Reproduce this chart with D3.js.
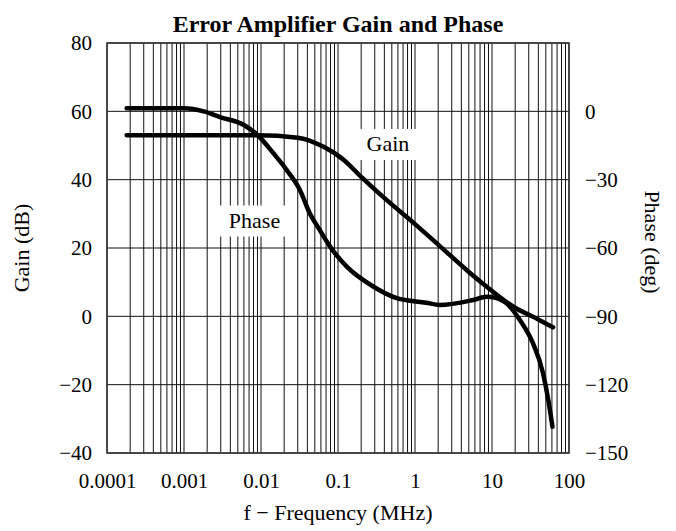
<!DOCTYPE html>
<html><head><meta charset="utf-8">
<script src="https://cdn.jsdelivr.net/npm/d3@7"></script>
<style>
body{margin:0;background:#fff}
svg{display:block}
text{font-family:"Liberation Serif","Times New Roman",serif;fill:#000}
</style>
</head><body><svg id="c" width="676" height="531"></svg>
<script>
// ---- data ----
const chartTitle = "Error Amplifier Gain and Phase";
const xTitle = "f \u2212 Frequency (MHz)";
const yLeftTitle = "Gain (dB)";
const yRightTitle = "Phase (deg)";
const xTicks = [0.0001, 0.001, 0.01, 0.1, 1, 10, 100];
const xTickLabels = ["0.0001", "0.001", "0.01", "0.1", "1", "10", "100"];
const gainTicks = [-40, -20, 0, 20, 40, 60, 80];
const gainTickLabels = ["\u221240", "\u221220", "0", "20", "40", "60", "80"];
const phaseTicks = [0, -30, -60, -90, -120, -150];
const phaseTickLabels = ["0", "\u221230", "\u221260", "\u221290", "\u2212120", "\u2212150"];
const gainFreq = [0.00018, 0.009, 0.03, 0.065, 0.12, 0.2, 0.43, 1, 2, 5, 8.5, 19, 40, 62];
const gainDb   = [53, 53, 52.3, 49.6, 45.7, 40.8, 34, 27, 21, 13, 8.7, 2.8, -0.9, -3.2];
const phaseFreq = [0.00018, 0.001, 0.0018, 0.003, 0.006, 0.009, 0.0145, 0.0216, 0.032, 0.043, 0.056, 0.079, 0.13, 0.29, 0.58, 1.4, 2.1, 5.7, 8.5, 11.5, 15.5, 23, 34, 46, 54, 61];
const phaseDeg  = [1.3, 1.3, 0, -2.6, -6, -10.4, -18.4, -25.8, -34.5, -44.8, -51.3, -59.4, -68.2, -77, -82, -84, -85, -82.8, -81.4, -82, -84.3, -91.6, -101.8, -115, -127, -138.5];
const seriesNames = ["Gain", "Phase"];

// ---- layout ----
const W = 676, H = 531;
const L = 107, R = 569, T = 43, B = 453;
const svg = d3.select("#c");
svg.append("rect").attr("width", W).attr("height", H).attr("fill", "#fff");

const x = d3.scaleLog().domain([1e-4, 1e2]).range([L, R]);
const yG = d3.scaleLinear().domain([-40, 80]).range([B, T]);
const yP = d3.scaleLinear().domain([-150, 30]).range([B, T]);

// grid
const grid = svg.append("g");
grid.selectAll("line.v").data(x.ticks()).join("line")
  .attr("x1", d => x(d)).attr("x2", d => x(d))
  .attr("y1", T).attr("y2", B)
  .attr("stroke", "#111").attr("stroke-width", 1);
grid.selectAll("line.h").data(gainTicks).join("line")
  .attr("x1", L).attr("x2", R)
  .attr("y1", d => yG(d)).attr("y2", d => yG(d))
  .attr("stroke", "#111").attr("stroke-width", 1);

// series labels with white boxes
const labelPos = [{f: 0.446, g: 48.4}, {f: 0.00824, g: 26}];
const lab = svg.append("g");
seriesNames.forEach((name, i) => {
  const cx = x(labelPos[i].f), by = yG(labelPos[i].g);
  const t = lab.append("text").attr("x", cx).attr("y", by)
    .attr("text-anchor", "middle").attr("font-size", 22).text(name);
  const bb = t.node().getBBox();
  lab.insert("rect", "text").attr("x", bb.x - 11).attr("y", by - 22).attr("width", bb.width + 22).attr("height", 31).attr("fill", "#fff");
});

// border
svg.append("rect").attr("x", L).attr("y", T).attr("width", R - L).attr("height", B - T)
  .attr("fill", "none").attr("stroke", "#333").attr("stroke-width", 1.5);

// curves
const lineG = d3.line().x(d => x(d[0])).y(d => yG(d[1])).curve(d3.curveMonotoneX);
const lineP = d3.line().x(d => x(d[0])).y(d => yP(d[1])).curve(d3.curveMonotoneX);
svg.append("path").attr("d", lineG(d3.zip(gainFreq, gainDb)))
  .attr("fill", "none").attr("stroke", "#000").attr("stroke-width", 4.5).attr("stroke-linecap", "round").attr("stroke-linejoin", "round");
svg.append("path").attr("d", lineP(d3.zip(phaseFreq, phaseDeg)))
  .attr("fill", "none").attr("stroke", "#000").attr("stroke-width", 4.5).attr("stroke-linecap", "round").attr("stroke-linejoin", "round");

// axes (labels only)
const ax = svg.append("g").attr("transform", `translate(0,${B})`)
  .call(d3.axisBottom(x).tickValues(xTicks).tickSize(0).tickPadding(20).tickFormat((d, i) => xTickLabels[i]));
const ay = svg.append("g").attr("transform", `translate(${L},0)`)
  .call(d3.axisLeft(yG).tickValues(gainTicks).tickSize(0).tickPadding(15).tickFormat((d, i) => gainTickLabels[i]));
const ap = svg.append("g").attr("transform", `translate(${R},0)`)
  .call(d3.axisRight(yP).tickValues(phaseTicks).tickSize(0).tickPadding(16).tickFormat((d, i) => phaseTickLabels[i]));
[ax, ay, ap].forEach(g => {
  g.select(".domain").remove();
  g.selectAll("text").attr("font-family", "Liberation Serif, Times New Roman, serif").attr("font-size", 21).attr("fill", "#000");
});

// titles
svg.append("text").attr("x", W / 2).attr("y", 32).attr("text-anchor", "middle")
  .attr("font-size", 24).attr("font-weight", "bold").text(chartTitle);
svg.append("text").attr("x", W / 2).attr("y", 520).attr("text-anchor", "middle")
  .attr("font-size", 22).text(xTitle);
svg.append("text").attr("transform", `translate(29,${(T + B) / 2}) rotate(-90)`).attr("text-anchor", "middle")
  .attr("font-size", 22).text(yLeftTitle);
svg.append("text").attr("transform", `translate(645,${(T + B) / 2 - 6}) rotate(90)`).attr("text-anchor", "middle")
  .attr("font-size", 22).text(yRightTitle);
</script></body></html>
